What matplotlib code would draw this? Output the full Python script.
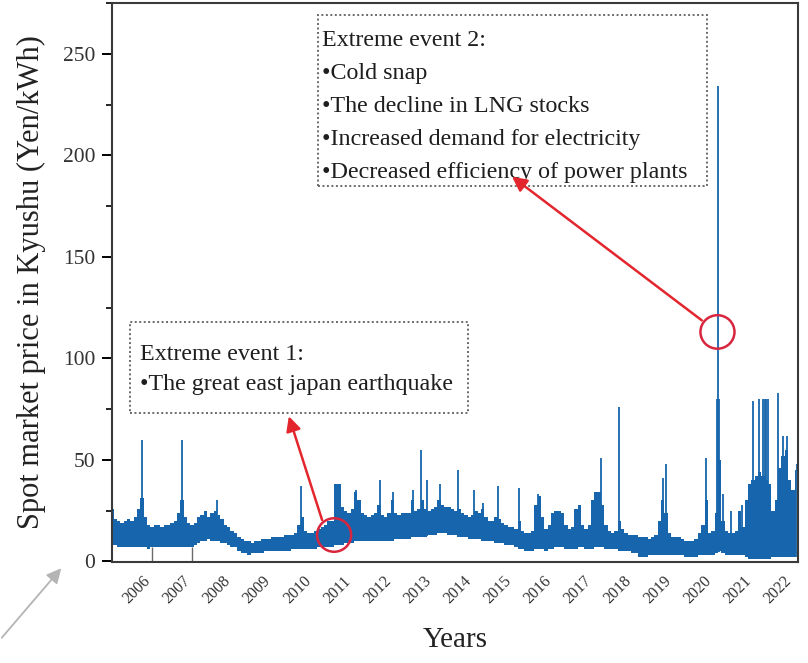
import numpy as np
from matplotlib import pyplot as plt
from matplotlib.pyplot import MultipleLocator
from matplotlib.patches import Ellipse, Rectangle

# serif text everywhere, Times-like
plt.rcParams['font.family'] = ['Liberation Serif', 'DejaVu Serif']

BLUE = '#1766ad'
RED = '#e3262d'

# monthly price band (Yen/kWh), Nov 2005 .. Dec 2022
first_month = 2005 + 10 / 12  # Nov 2005
band_low = [
    8, 8,                                            # 2005 Nov-Dec
    7, 7, 7, 7, 7, 7, 7, 7, 7, 6, 7, 7,              # 2006
    7, 7, 7, 7, 7, 7, 7, 7, 7, 7, 7, 8,              # 2007
    9, 10, 10, 11, 10, 10, 10, 9, 9, 8, 7, 7,        # 2008
    5, 4, 4, 3, 4, 4, 4, 4, 5, 5, 5, 5,              # 2009
    5, 5, 5, 5, 6, 6, 6, 6, 6, 6, 6, 6,              # 2010
    7, 7, 7, 7, 7, 8, 8, 8, 9, 9, 9, 10,             # 2011
    10, 10, 10, 10, 10, 10, 10, 10, 10, 10, 10, 11,  # 2012
    11, 11, 11, 11, 12, 12, 12, 12, 12, 13, 13, 13,  # 2013
    14, 14, 14, 13, 13, 13, 12, 12, 12, 11, 11, 11,  # 2014
    11, 10, 10, 10, 10, 9, 9, 9, 8, 8, 8, 7,         # 2015
    6, 6, 5, 5, 5, 6, 6, 6, 5, 6, 6, 7,              # 2016
    7, 7, 6, 6, 6, 6, 7, 7, 6, 6, 6, 7,              # 2017
    7, 7, 6, 6, 6, 6, 5, 5, 5, 5, 4, 4,              # 2018
    2, 2, 2, 3, 3, 3, 3, 3, 3, 3, 3, 3,              # 2019
    3, 3, 2, 2, 2, 2, 3, 3, 3, 3, 3, 4,              # 2020
    5, 4, 3, 3, 3, 3, 3, 3, 2, 1, 1, 1,              # 2021
    1, 1, 1, 1, 2, 2, 2, 2, 2, 2, 2, 2,              # 2022
]
band_high = [
    26, 21,
    20, 19, 20, 21, 20, 22, 26, 31, 22, 18, 17, 18,
    18, 17, 18, 18, 19, 20, 24, 30, 22, 19, 18, 19,
    22, 23, 25, 22, 24, 25, 23, 21, 18, 17, 15, 14,
    12, 11, 10, 10, 9, 10, 10, 11, 11, 11, 12, 12,
    12, 12, 13, 13, 13, 14, 18, 22, 15, 14, 14, 15,
    16, 17, 18, 20, 20, 38, 38, 27, 25, 24, 26, 34,
    30, 24, 23, 22, 23, 24, 28, 23, 22, 24, 30, 24,
    23, 24, 24, 24, 30, 25, 26, 30, 26, 25, 26, 27,
    30, 28, 27, 27, 26, 25, 26, 24, 23, 22, 23, 25,
    24, 26, 22, 20, 20, 22, 21, 19, 18, 17, 17, 16,
    20, 15, 14, 14, 15, 28, 32, 22, 16, 18, 24, 25,
    25, 24, 18, 16, 17, 26, 28, 18, 16, 18, 30, 34,
    34, 28, 18, 15, 14, 15, 20, 16, 14, 13, 13, 13,
    12, 12, 12, 11, 12, 13, 20, 30, 24, 14, 12, 12,
    12, 11, 10, 10, 10, 11, 14, 18, 30, 14, 15, 24,
    50, 20, 15, 14, 14, 15, 25, 17, 30, 38, 40, 42,
    44, 42, 40, 38, 25, 30, 46, 52, 55, 40, 35, 45,
]

# single-day price spikes
spike_dates = [2006.62, 2007.62, 2008.50, 2010.59, 2011.97, 2012.57, 2012.90,
               2013.39, 2013.59, 2013.74, 2014.06, 2014.51, 2014.91, 2015.14,
               2015.51, 2016.03, 2016.50, 2018.08, 2018.53, 2019.63, 2019.70,
               2020.71, 2020.99, 2021.00, 2021.02, 2021.13, 2021.33, 2021.60,
               2021.88, 2022.03, 2022.13, 2022.17, 2022.21, 2022.25, 2022.50,
               2022.62, 2022.72, 2022.97]
spike_prices = [60, 60, 30, 37, 35, 40, 34,
                35, 55, 40, 38, 45, 35, 29,
                37, 36, 33, 51, 76, 41, 48,
                51, 80, 234, 80, 33, 25, 28,
                79, 80, 80, 80, 80, 80, 83,
                62, 62, 48]

# days with a missing / zero price
gap_dates = [2006.87, 2007.87]
gap_prices = [0, 0]

years = list(range(2006, 2023))

# events marked on the series (date, price)
event_dates = [2011.42, 2020.99]
event_prices = [13, 113]

fig = plt.figure(figsize=(8.08, 6.63), dpi=100)
ax = fig.add_axes([0.1386, 0.1523, 0.849, 0.8432])

t = first_month + (np.arange(len(band_low)) + 0.5) / 12
ax.fill_between(t, band_low, band_high, step='mid', color=BLUE, lw=0)
# spikes rise from the bottom of the band
spike_base = np.interp(spike_dates, t, band_low)
ax.vlines(spike_dates, spike_base, spike_prices, color=BLUE, lw=1.3)
ax.vlines(gap_dates, gap_prices, np.interp(gap_dates, t, band_low), color='#6b6b6b', lw=1.0)

ax.set_xlim(2005.875, 2023.0)
ax.set_ylim(-0.3, 275)

ax.set_xticks([y + 0.5 for y in years])
ax.set_xticklabels([str(y) for y in years], rotation=45, ha='center')
ax.tick_params(axis='x', length=0, labelsize=11.5, pad=8, labelcolor='#333333')
ax.set_yticks(range(0, 251, 50))
ax.yaxis.set_minor_locator(MultipleLocator(25))
ax.tick_params(axis='y', which='major', direction='out', length=7, width=1.4,
               labelsize=15.5, pad=5, labelcolor='#333333')
ax.tick_params(axis='y', which='minor', direction='out', length=4, width=1.2)
for s in ax.spines.values():
    s.set_linewidth(1.5)
    s.set_color('#3a3a3a')

ax.set_ylabel('Spot market price in Kyushu (Yen/kWh)', fontsize=22, color='#222222')
ax.yaxis.set_label_coords(-0.096, 0.50)
ax.set_xlabel('Years', fontsize=21, color='#222222')
ax.xaxis.set_label_coords(0.5, -0.116)

# text boxes with dotted borders
ax.add_patch(Rectangle((0.300, 0.673), 0.567, 0.306, transform=ax.transAxes,
                       fill=False, ec='#6a6a6a', lw=1.4, ls=(0, (1, 1.3))))
ax.add_patch(Rectangle((0.026, 0.267), 0.493, 0.162, transform=ax.transAxes,
                       fill=False, ec='#6a6a6a', lw=1.4, ls=(0, (1, 1.3))))

lines2 = ['Extreme event 2:', '\u2022Cold snap', '\u2022The decline in LNG stocks',
          '\u2022Increased demand for electricity', '\u2022Decreased efficiency of power plants']
for i, s in enumerate(lines2):
    ax.text(0.306, 0.932 - i * 0.059, s, transform=ax.transAxes, fontsize=17.3,
            va='center', color='#1e1e1e')
lines1 = ['Extreme event 1:', '\u2022The great east japan earthquake']
for i, s in enumerate(lines1):
    ax.text(0.041, 0.372 - i * 0.054, s, transform=ax.transAxes, fontsize=17.3,
            va='center', color='#1e1e1e')

# red circles around the two events, with arrows to their boxes
for d, p in zip(event_dates, event_prices):
    ax.add_patch(Ellipse((d, p), 0.85, 16.5, fill=False, ec='#d8263f', lw=1.8, zorder=5))

arrow = dict(arrowstyle='-|>', color=RED, lw=1.8, mutation_scale=22, shrinkA=0, shrinkB=0)
ax.annotate('', xy=(2010.29, 71.5), xytext=(2011.12, 20.4), arrowprops=arrow)
ax.annotate('', xy=(2015.86, 189.5), xytext=(2020.60, 118.7), arrowprops=arrow)

# stray grey pointer at the lower left
ax.annotate('', xy=(0.078, 0.146), xytext=(0.0, 0.035), xycoords='figure fraction',
            textcoords='figure fraction', annotation_clip=False,
            arrowprops=dict(arrowstyle='-|>', color='#b4b4b4', lw=1.3, mutation_scale=22))

plt.savefig('out.png', dpi=100)
